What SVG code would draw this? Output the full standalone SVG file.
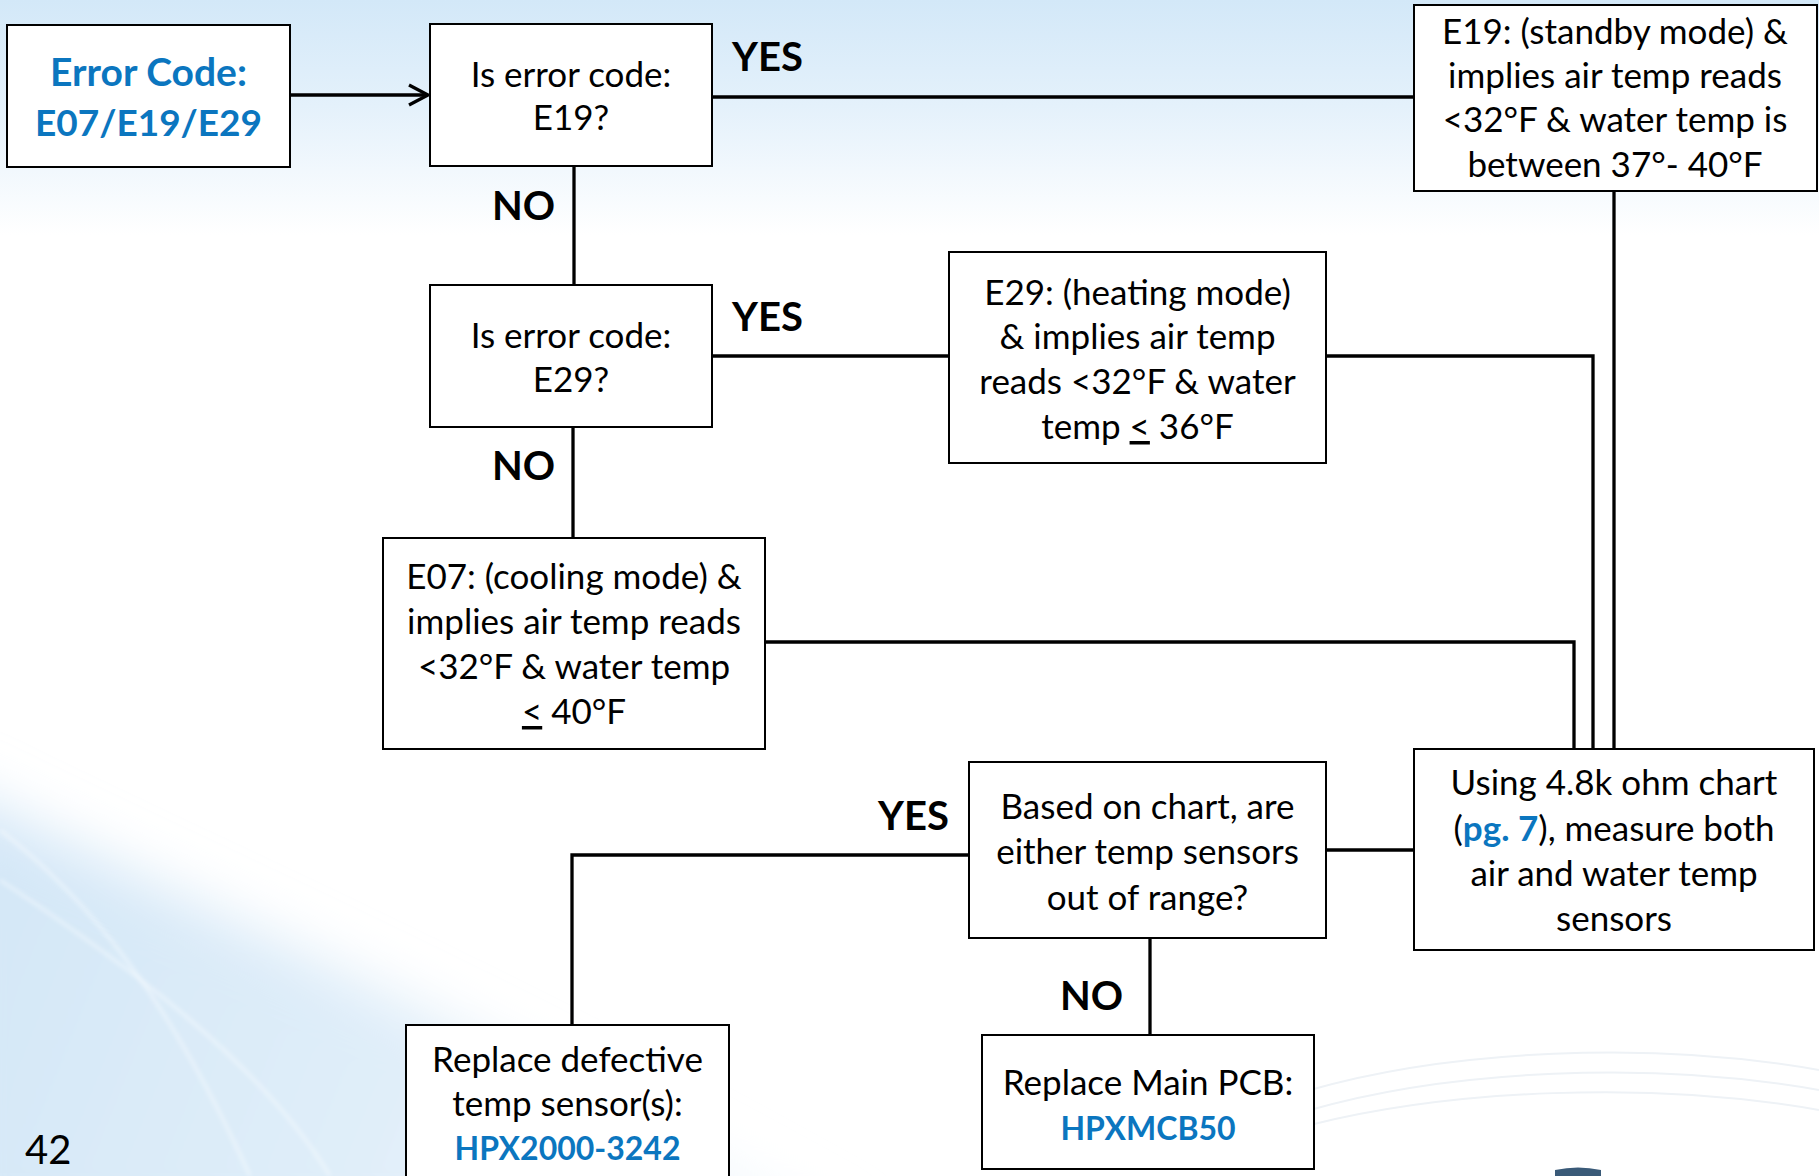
<svg xmlns="http://www.w3.org/2000/svg" width="1819" height="1176" viewBox="0 0 1819 1176">
<defs>
<linearGradient id="topbg" x1="0" y1="0" x2="0" y2="1">
<stop offset="0" stop-color="#d3e8f8"/>
<stop offset="0.09" stop-color="#e4f1fb"/>
<stop offset="0.2" stop-color="#ffffff"/>
<stop offset="1" stop-color="#ffffff"/>
</linearGradient>
<linearGradient id="blgrad" x1="0" y1="0" x2="1" y2="0.2">
<stop offset="0" stop-color="#d2e6f7"/>
<stop offset="0.6" stop-color="#e0eef9"/>
<stop offset="1" stop-color="#f4f9fd"/>
</linearGradient>
<filter id="soft" x="-20%" y="-20%" width="140%" height="140%">
<feGaussianBlur stdDeviation="28"/>
</filter>
<filter id="soft2" x="-10%" y="-10%" width="120%" height="120%">
<feGaussianBlur stdDeviation="2"/>
</filter>
<marker id="arrow" markerWidth="24" markerHeight="24" refX="0" refY="0" orient="auto" markerUnits="userSpaceOnUse" viewBox="-12 -12 24 24" overflow="visible">
<path d="M-19,-10 L0,0 L-19,10" fill="none" stroke="#000" stroke-width="3.3"/>
</marker>
</defs>
<style>
.box{fill:#fff;stroke:#000;stroke-width:2}
.t{font-family:Lato,"Open Sans","Liberation Sans",sans-serif;font-size:35px;fill:#000;text-anchor:middle}
.b{font-weight:bold}
.blue{fill:#0b76bf}
.big{font-size:39px}
.mid{font-size:37px}
.pn{font-size:32px}
.lbl{font-family:Lato,"Open Sans","Liberation Sans",sans-serif;font-size:40px;font-weight:bold;fill:#000}
.c{fill:none;stroke:#000;stroke-width:3.3}
.u{text-decoration:underline}
</style>
<rect x="0" y="0" width="1819" height="1176" fill="url(#topbg)"/>
<path d="M-60,780 C180,900 450,1010 860,1240 L-60,1240 Z" fill="url(#blgrad)" filter="url(#soft)"/>
<g fill="none" stroke="#ffffff" stroke-opacity="0.45" stroke-width="3" filter="url(#soft2)">
<path d="M0,830 C90,900 170,1000 250,1176"/>
<path d="M0,880 C120,960 260,1060 330,1176"/>
</g>
<g fill="none" stroke="#eef2f6" stroke-width="2">
<path d="M1310,1090 C1450,1050 1650,1040 1819,1070"/>
<path d="M1310,1110 C1450,1070 1650,1060 1819,1090"/>
<path d="M1310,1125 C1450,1090 1650,1080 1819,1110"/>
</g>
<path d="M1555,1176 L1555,1170 Q1578,1165 1601,1170 L1601,1176 Z" fill="#3a5a78"/>
<text x="25" y="1164" style="font-family:Lato,'Open Sans','Liberation Sans',sans-serif;font-size:40px;fill:#000">42</text>

<g id="connectors">
<line class="c" x1="290" y1="95" x2="428" y2="95" marker-end="url(#arrow)"/>
<line class="c" x1="712" y1="97" x2="1414" y2="97"/>
<line class="c" x1="574" y1="166" x2="574" y2="285"/>
<line class="c" x1="712" y1="356" x2="949" y2="356"/>
<line class="c" x1="573" y1="427" x2="573" y2="538"/>
<polyline class="c" points="1326,356 1593,356 1593,749"/>
<line class="c" x1="1614" y1="191" x2="1614" y2="749"/>
<polyline class="c" points="765,642 1574,642 1574,749"/>
<line class="c" x1="1326" y1="850" x2="1414" y2="850"/>
<polyline class="c" points="969,855 572,855 572,1025"/>
<line class="c" x1="1150" y1="938" x2="1150" y2="1035"/>
<text class="lbl" x="732" y="71">YES</text>
<text class="lbl" x="492" y="220">NO</text>
<text class="lbl" x="732" y="331">YES</text>
<text class="lbl" x="492" y="480">NO</text>
<text class="lbl" x="878" y="830">YES</text>
<text class="lbl" x="1060" y="1010">NO</text>
</g>

<g id="start">
<rect class="box" x="7" y="25" width="283" height="142"/>
<text class="t b blue big" x="148.5" y="86">Error Code:</text>
<text class="t b blue mid" x="148.5" y="136">E07/E19/E29</text>
</g>
<g id="q-e19">
<rect class="box" x="430" y="24" width="282" height="142"/>
<text class="t" x="571" y="87">Is error code:</text>
<text class="t" x="571" y="130">E19?</text>
</g>
<g id="e19-info">
<rect class="box" x="1414" y="5" width="403" height="186"/>
<text class="t" x="1615" y="44">E19: (standby mode) &amp;</text>
<text class="t" x="1615" y="88">implies air temp reads</text>
<text class="t" x="1615" y="132">&lt;32°F &amp; water temp is</text>
<text class="t" x="1615" y="177">between 37°- 40°F</text>
</g>
<g id="q-e29">
<rect class="box" x="430" y="285" width="282" height="142"/>
<text class="t" x="571" y="348">Is error code:</text>
<text class="t" x="571" y="392">E29?</text>
</g>
<g id="e29-info">
<rect class="box" x="949" y="252" width="377" height="211"/>
<text class="t" x="1137.5" y="305">E29: (heating mode)</text>
<text class="t" x="1137.5" y="349">&amp; implies air temp</text>
<text class="t" x="1137.5" y="394">reads &lt;32°F &amp; water</text>
<text class="t" x="1137.5" y="439">temp <tspan class="u">&lt;</tspan> 36°F</text>
</g>
<g id="e07-info">
<rect class="box" x="383" y="538" width="382" height="211"/>
<text class="t" x="574" y="589">E07: (cooling mode) &amp;</text>
<text class="t" x="574" y="634">implies air temp reads</text>
<text class="t" x="574" y="679">&lt;32°F &amp; water temp</text>
<text class="t" x="574" y="724"><tspan class="u">&lt;</tspan> 40°F</text>
</g>
<g id="measure">
<rect class="box" x="1414" y="749" width="400" height="201"/>
<text class="t" x="1614" y="795">Using 4.8k ohm chart</text>
<text class="t" x="1614" y="841">(<tspan class="b blue">pg. 7</tspan>), measure both</text>
<text class="t" x="1614" y="886">air and water temp</text>
<text class="t" x="1614" y="931">sensors</text>
</g>
<g id="q-range">
<rect class="box" x="969" y="762" width="357" height="176"/>
<text class="t" x="1147.5" y="819">Based on chart, are</text>
<text class="t" x="1147.5" y="864">either temp sensors</text>
<text class="t" x="1147.5" y="910">out of range?</text>
</g>
<g id="replace-sensor">
<rect class="box" x="406" y="1025" width="323" height="170"/>
<text class="t" x="567.5" y="1072">Replace defective</text>
<text class="t" x="567.5" y="1116">temp sensor(s):</text>
<text class="t b blue pn" x="567.5" y="1160">HPX2000-3242</text>
</g>
<g id="replace-pcb">
<rect class="box" x="982" y="1035" width="332" height="134"/>
<text class="t" x="1148" y="1095">Replace Main PCB:</text>
<text class="t b blue pn" x="1148" y="1140">HPXMCB50</text>
</g>
</svg>
